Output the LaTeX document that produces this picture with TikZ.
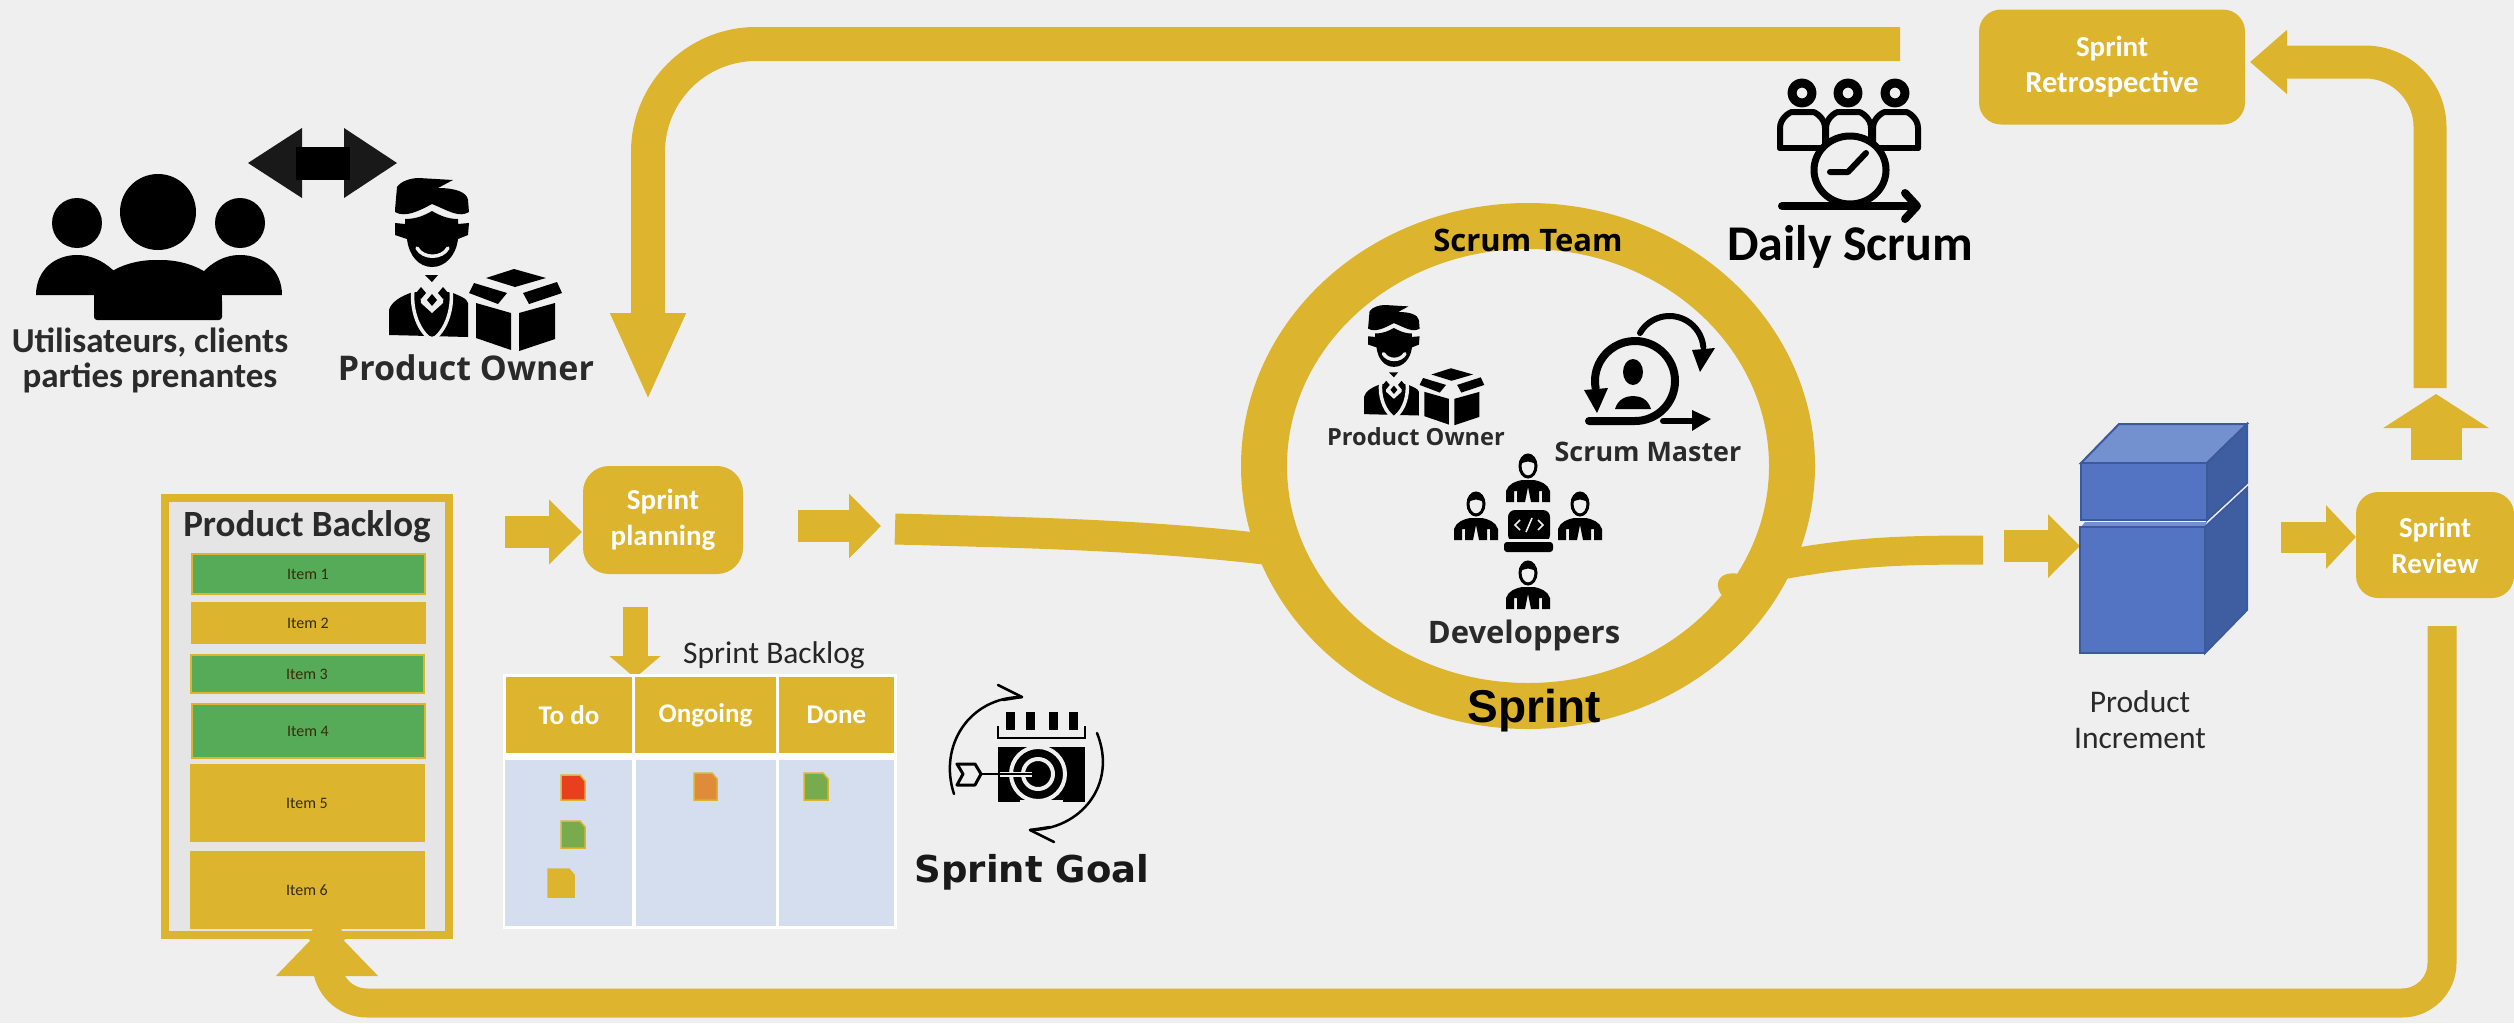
\documentclass[tikz,border=0pt]{standalone}
\usepackage{fontspec}
\setmainfont{Carlito}
\newfontfamily\opf{Open Sans}
\newfontfamily\libf{Liberation Sans}
\newfontfamily\djf{DejaVu Sans}
\usetikzlibrary{arrows.meta,shapes.geometric}
\definecolor{gold}{HTML}{DDB42E}
\definecolor{bgc}{HTML}{EFEFEF}
\definecolor{panel}{HTML}{E5E5E5}
\definecolor{itemgreen}{HTML}{55AB58}
\definecolor{kanban}{HTML}{D4DEEE}
\definecolor{cubefront}{HTML}{5274C2}
\definecolor{cubeside}{HTML}{3F5EA1}
\definecolor{cubetop}{HTML}{7390CF}
\definecolor{cubeedge}{HTML}{3B5A9B}
\definecolor{inktext}{HTML}{2A2A2A}
\definecolor{chipred}{HTML}{E8401F}
\definecolor{chiporange}{HTML}{E08A3C}
\definecolor{chipgreen}{HTML}{78AB4E}
\newcommand{\fs}[2]{\fontsize{#1}{#2}\selectfont}
\tikzset{
  goldbox/.style={fill=gold,rounded corners=#1,inner sep=0,text=white,align=center,font=\fs{29}{36}\bfseries},
  goldbox/.default=20,
  lab/.style={inner sep=0,align=center,text=inktext},
  itemb/.style={draw=gold,line width=2,inner sep=0,minimum width=233,font=\fs{16}{18},text=black!75!gold},
  flow/.style={draw=gold,line width=#1},
  arr/.style n args={3}{draw=gold,line width=#1,-{Triangle[length=#2,width=#3]}},
  hdr/.style={fill=gold,draw=none,inner sep=0,text=white,font=\fs{27}{32}\bfseries},
  chip/.style={fill=#1,draw=gold,line width=1.5},
  ink/.style={draw=black,line width=#1,line cap=round,line join=round},
  poicon/.pic={
    \fill[black] (6,32) -- (8,9) .. controls (12,3) and (22,0) .. (30,0) -- (64,2) -- (49,10) .. controls (66,10) and (78,14) .. (79,22) -- (80,34) .. controls (70,40) and (60,33) .. (43,26) .. controls (30,33) and (16,40) .. (6,34) -- cycle;
    \fill[black] (16,41) .. controls (28,41) and (36,37) .. (43,33) .. controls (50,37) and (58,41) .. (69,41) -- (69,46) -- (80,45) -- (79,57) -- (69,61) .. controls (67,78) and (56,89) .. (43,89) .. controls (30,89) and (20,78) .. (18,61) -- (6,57) -- (6,45) -- (16,46) -- cycle;
    \draw[bgc,line width=3.5,line cap=round] (28,70) .. controls (34,81) and (53,81) .. (59,70);
    \fill[black] (0,157) -- (0,132) .. controls (2,124) and (12,118) .. (24,114) -- (62,114) .. controls (70,118) and (78,120) .. (79,125) -- (79,159) -- cycle;
    \draw[bgc,line width=3.5] (24,112) .. controls (22,130) and (28,150) .. (40,160);
    \draw[bgc,line width=3.5] (62,112) .. controls (64,130) and (58,150) .. (46,160);
    \fill[bgc] (31,112) -- (55,112) -- (54,125) -- (43,135) -- (32,125) -- cycle;
    \fill[black] (36,97) -- (49,97) -- (43,104) -- cycle;
    \foreach \p/\q in {32/115,54/115,43/122}{\fill[black] (\p,\q-6) -- (\p+5,\q) -- (\p,\q+6) -- (\p-5,\q) -- cycle;}
    \fill[black] (39,135) -- (47,135) -- (47,154) -- (43,159) -- (39,154) -- cycle;
    \fill[black] (125,91) -- (157,100) -- (126,109) -- (97,100) -- cycle;
    \fill[black] (85,105) -- (118,115) -- (109,126) -- (80,115) -- cycle;
    \fill[black] (168,104) -- (134,115) -- (140,126) -- (173,115) -- cycle;
    \fill[black] (87,125) -- (122,135) -- (122,172) -- (87,160) -- cycle;
    \fill[black] (130,135) -- (166,125) -- (166,161) -- (130,173) -- cycle;
  },
  devp/.pic={
    \fill[black] (-22,47) -- (-22,36) .. controls (-20,29) and (-12,26) .. (-6,25) -- (6,25) .. controls (12,26) and (20,29) .. (22,36) -- (22,47) -- (14,47) -- (14,36) -- (11,36) -- (11,47) -- (3,47) -- (0,32) -- (-3,47) -- (-11,47) -- (-11,36) -- (-14,36) -- (-14,47) -- cycle;
    \fill[bgc,draw=black,line width=3] (0,11) ellipse (8 and 11);
    \fill[black] (-9,11) .. controls (-10,-3) and (10,-3) .. (9,11) .. controls (4,5) and (-4,5) .. (-9,11) -- cycle;
  }
}
\begin{document}
\begin{tikzpicture}[x=1pt,y=-1pt]
\useasboundingbox[fill=bgc] (0,0) rectangle (2514,1023);

%% ---- boxes and rings ----
\node[goldbox=22,minimum width=266,minimum height=115] (retro) at (2112,67) {Sprint\\{\fs{30.5}{36}Retrospective}};
\node[goldbox=22,minimum width=158,minimum height=106] (review) at (2435,545) {Sprint\\Review};
\node[goldbox=26,minimum width=160,minimum height=108] (plan) at (663,520) {Sprint\\planning};
\node[draw=gold,line width=46,ellipse,minimum width=528,minimum height=480,inner sep=0,outer sep=0] (ring) at (1528,466) {};

%% ---- free ends of the connectors ----
\coordinate (topS) at (1900,44);
\coordinate (topC) at (648,44);
\coordinate (topE) at (648,401);
\coordinate (rvUpS) at (2436,460);
\coordinate (rvUpE) at (2436,394);
\coordinate (rcS) at (2430,388);
\coordinate (rcC) at (2430,62);
\coordinate (rcE) at (2250,62);
\coordinate (botS) at (2442,626);
\coordinate (botC1) at (2442,1003);
\coordinate (botC2) at (327,1003);
\coordinate (botE) at (327,923);
\coordinate (pbS) at (505,532);
\coordinate (pbE) at (582,532);
\coordinate (plS) at (798,526);
\coordinate (plE) at (881,526);
\coordinate (sbS) at (635,607);
\coordinate (sbE) at (635,678);
\coordinate (lfS) at (895,529);
\coordinate (rfE) at (1983,550);
\coordinate (inS) at (2004,546);
\coordinate (inE) at (2080,546);
\coordinate (rvS) at (2281,537);
\coordinate (rvE) at (2356,537);
\coordinate (blob) at (1742,592);

%% ---- connectors ----
\draw[flow=34,rounded corners=108,-{Triangle[length=88,width=69]}] (topS) -- (topC) -- (topE);
\draw[flow=33,rounded corners=65,-{Triangle[length=37,width=62]}] (rcS) -- (rcC) -- (rcE);
\draw[flow=29,rounded corners=40,-{Triangle[length=53,width=99]}] (botS) -- (botC1) -- (botC2) -- (botE);
\draw[arr={51}{34}{104}] (rvUpS) -- (rvUpE);
\draw[arr={32}{33}{63}] (pbS) -- (pbE);
\draw[arr={32}{32}{63}] (plS) -- (plE);
\draw[arr={25}{22}{50}] (sbS) -- (sbE);
\draw[arr={32}{32}{62}] (inS) -- (inE);
\draw[arr={31}{30}{62}] (rvS) -- (rvE);
\draw[flow=31] (lfS) .. controls (1040,533) and (1150,535) .. (ring.199);
\draw[flow=29] (rfE) .. controls (1890,550) and (1850,552) .. (ring.337);
\fill[gold,rotate around={-28:(blob)}] (blob) ellipse (26 and 16);

%% ---- product backlog ----
\node[fill=panel,draw=gold,line width=8,inner sep=0,minimum width=284,minimum height=437] (pb) at (306.5,716.5) {};
\node[lab,font=\fs{37}{42}\bfseries] (pbT) at (307,527) {Product Backlog};
\node[itemb,fill=itemgreen,minimum height=40] (i1) at (308,574) {Item 1};
\node[itemb,fill=gold,minimum height=40] (i2) at (308,623) {Item 2};
\node[itemb,fill=itemgreen,minimum height=38] (i3) at (307,674) {Item 3};
\node[itemb,fill=itemgreen,minimum height=54] (i4) at (308,731) {Item 4};
\node[itemb,fill=gold,minimum height=76] (i5) at (307,803) {Item 5};
\node[itemb,fill=gold,minimum height=76] (i6) at (307,890) {Item 6};
\fill[gold] (313,928) -- (341,928) -- (345,940) -- (309,940) -- cycle;

%% ---- sprint backlog board ----
\fill[white] (503,674) rectangle (897,929);
\node[lab,font=\fs{31.5}{36},text=black!85] (sbT) at (774,655) {Sprint Backlog};
\node[hdr,minimum width=126,minimum height=76] (h1) at (569,715) {To do};
\node[hdr,minimum width=141,minimum height=76] (h2) at (705.5,715) {Ongoing};
\node[hdr,minimum width=115,minimum height=76] (h3) at (836.5,715) {Done};
\fill[kanban] (505,760) rectangle (632,926);
\fill[kanban] (636,760) rectangle (776,926);
\fill[kanban] (779,760) rectangle (894,926);
\draw[chip=chipred] (561,775) -- (580,775) -- (585,781) -- (585,800) -- (561,800) -- cycle;
\draw[chip=chiporange] (694,773) -- (712,773) -- (717,779) -- (717,800) -- (694,800) -- cycle;
\draw[chip=chipgreen] (804,773) -- (823,773) -- (828,779) -- (828,800) -- (804,800) -- cycle;
\draw[chip=chipgreen] (561,821) -- (580,821) -- (585,827) -- (585,848) -- (561,848) -- cycle;
\draw[chip=gold] (548,869) -- (569,869) -- (574,875) -- (574,897) -- (548,897) -- cycle;

%% ---- stakeholders ----
\fill[black] (158,212) ellipse (38 and 38);
\fill[black] (77,223) ellipse (25 and 25);
\fill[black] (240,223) ellipse (25 and 25);
\fill[black] (36,295) .. controls (36,270) and (55,255) .. (77,255) .. controls (95,255) and (108,265) .. (115,272) -- (115,295) -- cycle;
\fill[black] (282,295) .. controls (282,270) and (263,255) .. (240,255) .. controls (222,255) and (210,265) .. (203,272) -- (203,295) -- cycle;
\fill[black,rounded corners=3] (94,320) -- (94,298) .. controls (96,275) and (125,260) .. (158,260) .. controls (191,260) and (220,275) .. (222,298) -- (222,320) -- cycle;
\node[lab,font=\fs{35}{35}\bfseries] (users) at (150,360) {Utilisateurs, clients\\parties prenantes};
%% double arrow
\fill[black!90] (248,163) -- (302,128) -- (302,198) -- cycle;
\fill[black!90] (397,163) -- (344,128) -- (344,198) -- cycle;
\fill[black] (296,147) rectangle (350,180);
\pic at (389,178) {poicon};
\node[lab,font=\opf\fs{34}{38}\bfseries] (poL) at (466,368) {Product Owner};

%% ---- sprint goal ----
\fill[black] (998,747) rectangle (1085,802);
\foreach \p in {1010,1030,1053,1073}{\fill[black] (\p-4.5,712) rectangle (\p+4.5,730);}
\draw[black,line width=2.5] (998,726) -- (998,738) -- (1085,738) -- (1085,726);
\draw[bgc,line width=4] (1038,774) circle (27);
\draw[bgc,line width=4] (1038,774) circle (15);
\fill[bgc] (1020,800) rectangle (1063,803);
\draw[bgc,line width=5] (1000,774) -- (1032,774);
\draw[black,line width=2.5] (980,774) -- (1040,774);
\draw[black,line width=3,line join=round] (957,764) -- (975,764) -- (981,774) -- (975,785) -- (957,785) -- (963,774) -- cycle;
\draw[ink=2.5] (954,794) .. controls (938,745) and (970,697) .. (1022,697);
\draw[ink=2.5] (998,685) -- (1022,697) -- (1003,700);
\draw[ink=2.5] (1097,733) .. controls (1118,785) and (1080,830) .. (1030,830);
\draw[ink=2.5] (1054,842) -- (1030,830) -- (1050,827);
\node[lab,font=\djf\fs{37}{42}\bfseries,text=black!90] (goal) at (1032,872) {Sprint Goal};

%% ---- daily scrum ----
\foreach \p in {1802,1848,1895}{\draw[ink=9] (\p,93) circle (10);}
\foreach \p/\q in {1780/1825,1826/1871,1873/1918}{
  \draw[ink=6,fill=bgc] (\p,148) -- (\p,128) .. controls (\p,118) and (\p+10,112) .. (\p+12,112) -- (\q-12,112) .. controls (\q-10,112) and (\q,118) .. (\q,128) -- (\q,148);
}
\draw[ink=6] (1780,148) -- (1918,148);
\draw[ink=7,fill=bgc] (1850,170) ellipse (36 and 34);
\draw[ink=6] (1830,172) -- (1848,172) -- (1866,153);
\draw[ink=8] (1782,206) -- (1916,206);
\draw[ink=8] (1905,193) -- (1917,206) -- (1905,219);
\node[lab,font=\fs{50}{56}\bfseries,text=black] (daily) at (1850,247) {Daily Scrum};

%% ---- scrum team ----
\node[lab,font=\opf\fs{31}{34}\bfseries,text=black] (teamT) at (1528,240) {Scrum Team};
\node[lab,font=\libf\fs{46}{52}\bfseries,text=black] (sprintT) at (1534,711) {Sprint};
\pic[scale=0.695] at (1364,305) {poicon};
\node[lab,font=\opf\fs{23.6}{27}\bfseries,text=inktext] (poS) at (1416,437) {Product Owner};
%% scrum master icon
\draw[ink=8] (1589,421) -- (1635,421) arc[start angle=90,end angle=-190,radius=40];
\fill[black] (1584,390) -- (1608,388) -- (1597,413) -- cycle;
\draw[ink=6] (1640,333) arc[start angle=-150,end angle=-5,radius=34];
\fill[black] (1692,350) -- (1715,348) -- (1700,372) -- cycle;
\draw[ink=6] (1663,421) -- (1695,421);
\fill[black] (1692,410) -- (1711,419) -- (1692,431) -- cycle;
\fill[black] (1633,372) ellipse (10 and 13);
\fill[black] (1615,409) .. controls (1618,399) and (1626,396) .. (1633,396) .. controls (1640,396) and (1648,399) .. (1651,409) -- cycle;
\node[lab,font=\opf\fs{26.9}{30}\bfseries,text=inktext] (smT) at (1648,452) {Scrum Master};
%% developers icon
\pic at (1528,455) {devp};
\pic at (1476,493) {devp};
\pic at (1580,493) {devp};
\pic at (1528,562) {devp};
\fill[black,rounded corners=7] (1508,510) rectangle (1550,542);
\fill[black,rounded corners=3] (1504,542) rectangle (1553,552);
\fill[bgc] (1504,539) rectangle (1553,542);
\draw[bgc,line width=1.6] (1520,520) -- (1515,525) -- (1520,530);
\draw[bgc,line width=1.6] (1538,520) -- (1543,525) -- (1538,530);
\draw[bgc,line width=1.6] (1532,518) -- (1526,532);
\node[lab,font=\opf\fs{31}{34}\bfseries,text=inktext] (devT) at (1524,635) {Developpers};

%% ---- increment ----
\filldraw[fill=cubetop,draw=cubeedge,line width=2] (2081,463) -- (2119,424) -- (2247,424) -- (2207,463) -- cycle;
\filldraw[fill=cubeside,draw=cubeedge,line width=2] (2207,463) -- (2247,424) -- (2247,483) -- (2207,520) -- cycle;
\filldraw[fill=cubefront,draw=cubeedge,line width=2] (2081,463) rectangle (2207,520);
\fill[cubetop] (2081,527) -- (2085,522) -- (2207,522) -- (2205,527) -- cycle;
\filldraw[fill=cubeside,draw=cubeedge,line width=2] (2205,527) -- (2247,488) -- (2247,610) -- (2205,653) -- cycle;
\filldraw[fill=cubefront,draw=cubeedge,line width=2] (2080,527) rectangle (2205,653);
\node[lab,font=\fs{31.5}{36},text=inktext] (incT) at (2140,720) {Product\\Increment};
\end{tikzpicture}
\end{document}
